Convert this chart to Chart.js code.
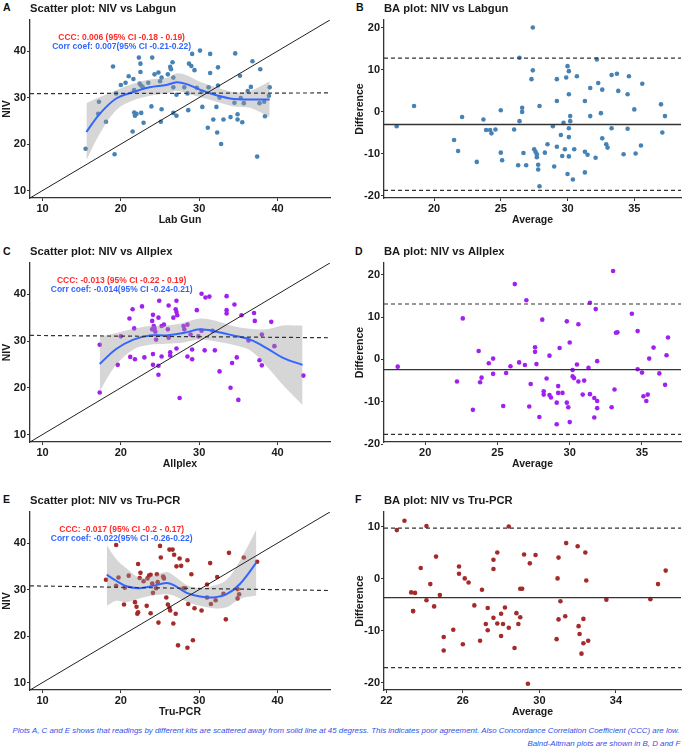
<!DOCTYPE html>
<html>
<head>
<meta charset="utf-8">
<script src="https://cdn.jsdelivr.net/npm/chart.js@4.4.1/dist/chart.umd.min.js"></script>
<style>
  html, body { margin: 0; padding: 0; background: #fff; }
  body { width: 685px; height: 750px; position: relative; overflow: hidden; font-family: 'Liberation Sans', Arial, sans-serif; }
  canvas { position: absolute; }
  .tag { position: absolute; font-size: 10.5px; font-weight: bold; line-height: 11px; color: #111; }
  .cap { position: absolute; right: 5px; white-space: nowrap; font-size: 8px; line-height: 10px; font-style: italic; color: #3050e8; transform-origin: right center; }
</style>
</head>
<body>
<div class="tag" style="left:3px;top:2px">A</div>
<div class="tag" style="left:356px;top:2px">B</div>
<div class="tag" style="left:3px;top:246px">C</div>
<div class="tag" style="left:355px;top:246px">D</div>
<div class="tag" style="left:3px;top:494px">E</div>
<div class="tag" style="left:355px;top:494px">F</div>

<canvas id="chartA" width="340" height="230" style="left:0;top:0"></canvas>
<canvas id="chartB" width="332" height="230" style="left:353px;top:0"></canvas>
<canvas id="chartC" width="340" height="231" style="left:0;top:243px"></canvas>
<canvas id="chartD" width="332" height="231" style="left:353px;top:243px"></canvas>
<canvas id="chartE" width="340" height="230" style="left:0;top:492px"></canvas>
<canvas id="chartF" width="332" height="230" style="left:353px;top:492px"></canvas>

<div class="cap" id="cap1" style="top:726px">Plots A, C and E shows that readings by different kits are scattered away from solid line at 45 degress. This indicates poor agreement. Also Concordance Correlation Coefficient (CCC) are low.</div>
<div class="cap" id="cap2" style="top:739px">Balnd-Altman plots are shown in B, D and F</div>

<script>
// ---- Scatter A: Lab Gun vs NIV
const labgunX = [15.5,17.2,17.1,18.1,19.2,19.0,19.4,20.0,20.6,21.0, 21.6,21.7,21.5,21.7,21.8,22.0,22.3,22.5,22.5,22.4,
  22.6,22.8,22.6,22.9,24.0,23.9,23.5,24.3,24.8,25.0, 25.2,25.2,25.1,26.0,26.3,26.6,26.4,26.7,26.7,27.1,
  27.1,26.7,28.1,28.6,28.7,29.0,29.1,29.4,28.5,30.1, 30.3,29.7,30.4,31.1,31.4,31.4,31.2,31.8,32.2,32.3,
  32.4,32.4,32.6,32.8,33.1,34.0,34.5,34.6,34.9,34.9, 35.2,35.3,35.5,35.7,36.2,36.6,36.8,37.4,37.7,37.8,
  38.3,38.4,38.9,39.0];
const labgunNiv = [19.0,29.1,26.5,24.8,17.8,36.7,30.9,32.7,33.2,34.6, 34.0,31.6,22.7,26.8,26.1,26.5,38.6,37.3,35.5,33.0,
  32.6,32.2,26.7,24.6,38.6,28.1,33.2,35.0,35.4,33.5, 34.3,27.5,24.8,35.0,36.6,37.6,36.1,32.2,26.7,30.6,
  26.1,34.3,32.2,27.3,37.3,36.8,39.4,35.9,30.9,40.1, 31.2,32.1,28.0,23.5,35.3,39.4,32.2,25.3,28.0,22.5,
  36.5,32.6,30.0,20.0,25.3,25.8,28.9,39.5,26.4,25.3, 34.7,29.9,24.7,28.8,31.4,32.3,37.8,17.3,28.8,36.1,
  29.1,26.0,30.4,32.2];
const labgunSmoothX = [15.6,17.3,19.4,21.6,23.7,25.8,27.1,28.4,30.1,32.2,34.4,36.5,39.0];
const labgunSmooth  = [22.6,26.5,29.8,31.2,32.2,32.7,33.3,32.9,31.7,30.5,29.7,29.6,29.6];
const labgunSmoothHi = [28.8,30.1,31.6,33.0,33.9,34.2,35.2,34.8,33.4,32.2,31.2,31.4,33.5];
const labgunSmoothLo = [16.5,22.2,27.3,29.4,30.4,30.9,31.4,30.9,30.1,29.1,28.1,27.8,25.8];
const labgunFit = [30.85, 31.0];
const labgunStats = ['CCC: 0.006 (95% CI -0.18 - 0.19)', 'Corr coef: 0.007(95% CI -0.21-0.22)'];

// ---- BA B
const baLabgunAvg = [17.2,18.5,21.5,21.8,22.1,23.2,23.7,23.9,24.2,24.3, 24.6,25.0,25.0,25.1,26.0,26.3,26.4,26.4,26.6,26.6,
  26.7,26.9,27.3,27.4,27.4,27.5,27.6,27.7,27.7,27.8, 27.8,27.9,27.9,28.3,28.5,28.9,29.0,29.2,29.2,29.2,
  29.5,29.6,29.7,29.8,29.9,30.0,30.0,30.1,30.1,30.1, 30.1,30.1,30.2,30.2,30.4,30.5,30.7,31.3,31.3,31.3,
  31.5,31.7,31.7,32.1,32.2,32.3,32.5,32.6,32.6,32.9, 33.0,33.3,33.3,33.7,33.8,34.2,34.5,34.5,34.6,35.0,
  35.1,35.5,35.6,37.0,37.1,37.3];
const baLabgunDiff = [-3.4,1.4,-6.7,-9.3,-1.2,-11.9,-1.8,-4.3,-4.3,-5.1, -4.2,0.4,-9.7,-11.5,-4.2,-12.7,-2.2,12.9,1.0,0,
  -9.8,-12.7,7.8,9.9,20.1,-8.9,-9.5,-10.1,-10.8,-12.6, -13.7,-17.7,1.4,-9.7,-7.7,-3.4,-13.0,7.8,2.6,-8.3,
  -5.5,-10.5,-2.6,-8.9,8.2,-14.8,10.9,9.7,4.2,-3.9, -6.0,-10.6,-1.0,-2.2,-16.1,-8.9,8.5,2.6,-14.4,-9.5,
  -10.2,-1.0,5.7,-10.9,12.5,6.9,-0.3,5.3,-6.3,-7.7, -8.5,-3.9,8.8,9.1,5.0,-10.1,4.2,-4.0,8.5,0.6,
  -9.9,-8.0,6.7,1.8,-4.9,-1.0];
const baLabgunLimits = [-3.0, 12.8, -18.7]; // mean, upper, lower

// ---- Scatter C: Allplex vs NIV
const allplexX = [17.3,17.3,19.6,20.0,21.1,21.5,21.7,21.2,21.8,22.7, 23.0,24.0,24.1,24.2,24.0,24.1,24.1,24.3,24.4,24.5,
  24.8,24.8,24.8,24.9,25.2,25.5,25.2,26.0,26.1,26.1, 26.3,26.3,26.7,27.0,27.1,27.1,27.2,27.1,27.5,28.0,
  28.1,28.5,28.5,28.9,29.1,29.1,29.7,29.9,30.3,30.3, 30.7,30.8,31.3,31.7,32.0,32.6,33.5,33.5,33.5,34.0,
  34.2,34.5,34.8,35.0,35.4,36.3,37.0,37.1,37.7,38.0, 38.0,39.2,39.6,43.3];
const allplexNiv = [29.2,19.0,24.9,31.0,34.8,36.8,32.7,26.6,26.1,37.4, 26.5,34.3,35.6,33.2,32.5,27.2,24.9,32.7,32.0,30.3,
  35.0,24.7,22.8,38.6,33.2,33.5,26.7,32.5,37.6,30.7, 27.6,26.9,35.0,36.8,36.2,38.6,35.5,28.4,17.8,33.2,
  32.5,33.5,26.7,31.4,28.2,26.1,36.6,31.0,40.1,32.2, 28.0,39.3,39.5,32.2,28.0,23.5,39.6,36.6,35.9,20.0,
  25.3,37.8,26.5,17.4,35.5,30.1,36.0,34.3,25.9,31.4, 24.8,34.1,28.9,22.6];
const allplexSmoothX = [17.3,19.4,21.6,23.7,25.8,28.0,30.1,32.2,34.3,36.5,38.6,40.7,43.2];
const allplexSmooth  = [25.1,28.3,30.3,31.2,31.2,31.7,32.5,32.0,31.2,30.3,28.5,26.4,24.9];
const allplexSmoothHi = [30.9,31.7,32.6,33.2,33.3,33.9,34.8,34.3,33.2,32.6,32.5,33.3,33.3];
const allplexSmoothLo = [19.3,24.9,28.2,29.2,29.4,29.7,30.3,29.9,29.2,28.0,24.6,20.6,16.3];
const allplexFit = [31.2, 30.7];
const allplexStats = ['CCC: -0.013 (95% CI -0.22 - 0.19)', 'Corr coef: -0.014(95% CI -0.24-0.21)'];

// ---- BA D
const baAllplexAvg = [18.1,22.2,22.6,23.3,23.7,23.8,23.9,24.4,24.7,24.7, 25.4,25.6,25.9,26.2,26.5,26.9,27.0,27.2,27.3,27.6,
  27.6,27.7,27.9,28.1,28.2,28.2,28.4,28.6,28.6,28.7, 29.1,29.1,29.2,29.2,29.3,29.5,29.8,29.8,29.9,30.0,
  30.0,30.2,30.2,30.3,30.5,30.6,30.6,30.9,31.0,31.3, 31.4,31.4,31.7,31.7,31.8,31.9,31.9,31.9,32.9,33.0,
  33.1,33.2,33.3,34.3,34.7,34.7,35.0,35.1,35.3,35.4, 35.5,35.8,36.2,36.6,36.7,36.8];
const baAllplexDiff = [-1.7,-5.2,9.7,-11.9,2.0,-5.4,-4.3,-0.9,0.2,-3.4, -11.0,-3.2,-1.6,17.8,-0.7,-1.3,14.0,-11.1,-5.8,1.8,
  2.9,-1.1,-13.6,9.4,-7.5,-8.3,-4.5,0.9,-8.4,-9.0, -15.3,-10.2,-7.9,-6.3,2.7,-7.9,9.0,-10.2,-11.3,4.0,
  -14.8,-2.5,-4.0,-4.4,-1.2,-5.2,8.3,-8.3,-5.0,-2.0, 13.4,-8.2,-9.1,-13.7,11.9,-11.5,-9.8,-0.4,-11.3,20.9,
  -7.1,6.3,6.4,10.8,6.7,-2.3,-3.1,-8.7,-9.8,-8.3, 0.2,2.8,-3.3,-6.0,1.0,5.2];
const baAllplexLimits = [-2.4, 13.1, -17.7];

// ---- Scatter E: Tru-PCR vs NIV
const truX = [18.1,19.4,19.4,19.7,20.4,20.5,21.0,21.8,22.0,22.1, 22.2,22.2,22.4,22.5,22.9,23.3,23.4,23.6,23.8,23.8,
  24.0,24.1,24.5,24.6,24.7,24.8,25.0,25.1,25.4,25.5, 25.8,26.0,26.2,26.3,26.2,26.6,26.8,26.7,27.0,27.1,
  27.3,27.5,27.7,28.0,28.2,28.5,28.5,28.6,29.0,29.2, 29.4,30.3,31.0,31.0,31.4,31.5,32.1,32.3,33.1,33.4,
  33.8,34.9,34.9,35.1,35.7,37.4];
const truNiv = [32.1,39.6,30.8,32.6,26.8,30.4,33.0,27.3,26.3,24.8, 25.1,35.5,32.5,33.6,31.8,26.5,32.4,33.0,33.2,24.9,
  31.3,29.3,30.3,33.3,31.6,22.9,39.4,36.9,32.8,32.4, 28.3,26.8,26.1,25.5,38.6,38.6,37.5,22.7,24.8,35.0,
  18.0,36.7,35.1,30.3,30.3,36.3,17.5,26.9,33.3,19.1, 26.0,25.5,31.1,28.3,35.7,26.9,27.7,32.7,29.1,23.6,
  37.9,30.1,28.1,29.0,36.9,36.0];
const truSmoothX = [18.2,19.4,20.7,22.4,24.1,25.8,26.7,28.4,30.1,31.8,33.5,35.2,37.3];
const truSmooth  = [33.2,31.9,30.7,30.3,30.8,31.4,31.0,29.3,28.5,28.3,29.0,31.2,35.8];
const truSmoothHi = [39.6,36.6,34.6,32.6,33.0,33.8,33.1,31.0,30.3,30.8,32.1,36.2,42.9];
const truSmoothLo = [26.5,27.6,27.3,28.1,28.7,29.0,28.7,27.4,26.5,26.0,26.2,28.0,28.7];
const truFit = [30.8, 29.8];
const truStats = ['CCC: -0.017 (95% CI -0.2 - 0.17)', 'Corr coef: -0.022(95% CI -0.26-0.22)'];

// ---- BA F
const baTruAvg = [22.55,22.95,23.3,23.4,23.4,23.5,23.8,24.1,24.1,24.3, 24.5,24.6,24.8,25.0,25.0,25.5,25.8,25.8,26.0,26.1,
  26.3,26.6,26.9,27.0,27.2,27.3,27.3,27.6,27.6,27.6, 27.8,27.8,28.0,28.0,28.1,28.2,28.4,28.4,28.7,28.8,
  28.9,29.0,29.0,29.1,29.2,29.4,29.5,29.8,30.9,30.95, 31.0,31.0,31.1,31.35,31.4,32.0,32.05,32.1,32.2,32.3,
  32.3,32.4,32.45,32.55,33.5,35.8,36.2,36.6];
const baTruDiff = [9.4,11.2,-2.6,-6.2,-6.2,-2.7,2.1,10.2,-4.1,-1.0, -5.3,4.3,-3.1,-13.8,-11.2,-9.8,1.0,2.4,-12.6,0.1,
  -0.7,-5.1,-11.9,-2.1,-8.7,-9.9,-5.6,3.7,1.9,-7.5, 5.1,-8.6,-11.0,-6.7,-8.7,-5.5,10.1,-9.4,-13.3,-6.6,
  -8.7,-7.4,-1.9,-1.9,4.7,-20.2,3.0,4.6,-11.6,0.1, -7.8,4.1,-4.3,-7.2,6.9,6.3,-9.1,-10.6,-14.4,-12.4,
  -7.7,5.1,-0.3,-11.9,-4.0,-3.9,-1.0,1.6];
const baTruLimits = [-3.6, 9.8, -17.1];

// tick labels
const scatterTicks = [10, 20, 30, 40];
const baTicksY = [-20, -10, 0, 10, 20];
const baTicksX = [20, 25, 30, 35];
const baTruTicksY = [-20, -10, 0, 10];
const baTruTicksX = [22, 26, 30, 34];

const FONT = "'Liberation Sans', Arial, sans-serif";
Chart.defaults.font.family = FONT;
Chart.defaults.color = '#1a1a1a';
Chart.defaults.animation = false;

const pairs = (xs, ys) => xs.map((x, i) => ({ x, y: ys[i] }));

// text labels placed in data coordinates
const corrText = {
  id: 'corrText',
  afterDatasetsDraw(chart, args, opts) {
    if (!opts.lines) return;
    const { ctx, scales: { x, y } } = chart;
    ctx.save();
    ctx.font = 'bold 8.5px ' + FONT;
    ctx.textAlign = 'center';
    ctx.textBaseline = 'middle';
    opts.lines.forEach(l => {
      ctx.fillStyle = l.color;
      ctx.fillText(l.text, x.getPixelForValue(opts.x), y.getPixelForValue(l.y));
    });
    ctx.restore();
  }
};

function axis(min, max, ticks, title, fit, titlePad) {
  return {
    type: 'linear', min, max,
    afterBuildTicks: s => { s.ticks = ticks.map(v => ({ value: v })); },
    afterFit: fit,
    grid: { display: true, drawOnChartArea: false, drawTicks: true, tickLength: 3, color: '#333', lineWidth: 1 },
    border: { display: true, color: '#333', width: 1.3 },
    ticks: { font: { size: 11, weight: 'bold' }, color: '#1a1a1a', padding: 1, maxRotation: 0, autoSkip: false },
    title: { display: true, text: title, font: { size: 10.5, weight: 'bold' }, color: '#1a1a1a', padding: titlePad }
  };
}

function common(title, padRight) {
  return {
    responsive: false,
    layout: { padding: { left: 0, right: padRight, top: 0, bottom: 4 } },
    plugins: {
      legend: { display: false },
      tooltip: { enabled: false },
      title: {
        display: true, text: title, align: 'start', fullSize: false,
        font: { size: 11.2, weight: 'bold' }, color: '#1a1a1a',
        padding: { top: 2, bottom: 4.5 }
      }
    }
  };
}

function scatterChart(id, title, xTitle, xs, ys, color, sx, sy, hi, lo, fit, stats) {
  const lim = [8.4, 46.7];
  const opts = common(title, 10);
  opts.scales = {
    x: axis(lim[0], lim[1], scatterTicks, xTitle, s => { s.height = 28; }, { top: 0, bottom: 0 }),
    y: axis(lim[0], lim[1], scatterTicks, 'NIV', s => { s.width = 30; }, { top: 1, bottom: 0 })
  };
  opts.plugins.corrText = {
    x: 20.1,
    lines: [
      { text: stats[0], color: '#ff2b2b', y: 42.95 },
      { text: stats[1], color: '#3366ff', y: 40.9 }
    ]
  };
  return new Chart(document.getElementById(id), {
    type: 'scatter',
    data: {
      datasets: [
        { data: pairs(xs, ys), backgroundColor: color, pointRadius: 2.3, borderWidth: 0, order: 5 },
        { type: 'line', data: pairs(sx, hi), borderWidth: 0, pointRadius: 0, tension: 0.35,
          fill: '+1', backgroundColor: 'rgba(153,153,153,0.4)', order: 3 },
        { type: 'line', data: pairs(sx, lo), borderWidth: 0, pointRadius: 0, tension: 0.35, fill: false, order: 3 },
        { type: 'line', data: pairs(sx, sy), borderColor: '#3366ff', borderWidth: 2, pointRadius: 0, tension: 0.35, order: 2 },
        { type: 'line', data: pairs(lim, lim), borderColor: '#222', borderWidth: 1, pointRadius: 0, order: 1 },
        { type: 'line', data: pairs(lim, fit), borderColor: '#333', borderWidth: 1.2, borderDash: [4, 3], pointRadius: 0, order: 1 }
      ]
    },
    options: opts,
    plugins: [corrText]
  });
}

function baChart(id, title, xs, ys, color, limits, xRange, yRange, xTicks, yTicks) {
  const opts = common(title, 1);
  opts.scales = {
    x: axis(xRange[0], xRange[1], xTicks, 'Average', s => { s.height = 28; }, { top: 0, bottom: 0 }),
    y: axis(yRange[0], yRange[1], yTicks, 'Difference', s => { s.width = 31; }, { top: 1, bottom: 0 })
  };
  const hline = v => pairs(xRange, [v, v]);
  return new Chart(document.getElementById(id), {
    type: 'scatter',
    data: {
      datasets: [
        { data: pairs(xs, ys), backgroundColor: color, pointRadius: 2.3, borderWidth: 0, order: 5 },
        { type: 'line', data: hline(limits[0]), borderColor: '#333', borderWidth: 1.3, pointRadius: 0, order: 1 },
        { type: 'line', data: hline(limits[1]), borderColor: '#333', borderWidth: 1.2, borderDash: [4, 3], pointRadius: 0, order: 1 },
        { type: 'line', data: hline(limits[2]), borderColor: '#333', borderWidth: 1.2, borderDash: [4, 3], pointRadius: 0, order: 1 }
      ]
    },
    options: opts
  });
}

scatterChart('chartA', 'Scatter plot: NIV vs Labgun', 'Lab Gun', labgunX, labgunNiv, '#4682b4',
  labgunSmoothX, labgunSmooth, labgunSmoothHi, labgunSmoothLo, labgunFit, labgunStats);
baChart('chartB', 'BA plot: NIV vs Labgun', baLabgunAvg, baLabgunDiff, '#4682b4', baLabgunLimits,
  [16.25, 38.5], [-20.5, 21.9], baTicksX, baTicksY);

scatterChart('chartC', 'Scatter plot: NIV vs Allplex', 'Allplex', allplexX, allplexNiv, '#a020f0',
  allplexSmoothX, allplexSmooth, allplexSmoothHi, allplexSmoothLo, allplexFit, allplexStats);
baChart('chartD', 'BA plot: NIV vs Allplex', baAllplexAvg, baAllplexDiff, '#a020f0', baAllplexLimits,
  [17.15, 37.7], [-19.5, 22.8], baTicksX, baTicksY);

scatterChart('chartE', 'Scatter plot: NIV vs Tru-PCR', 'Tru-PCR', truX, truNiv, '#a52a2a',
  truSmoothX, truSmooth, truSmoothHi, truSmoothLo, truFit, truStats);
baChart('chartF', 'BA plot: NIV vs Tru-PCR', baTruAvg, baTruDiff, '#a52a2a', baTruLimits,
  [21.88, 37.4], [-21.4, 12.9], baTruTicksX, baTruTicksY);

// squeeze caption lines to the width they take in the figure
const k = 667 / document.getElementById('cap1').getBoundingClientRect().width;
document.querySelectorAll('.cap').forEach(el => { el.style.transform = 'scaleX(' + k + ')'; });
</script>
</body>
</html>
